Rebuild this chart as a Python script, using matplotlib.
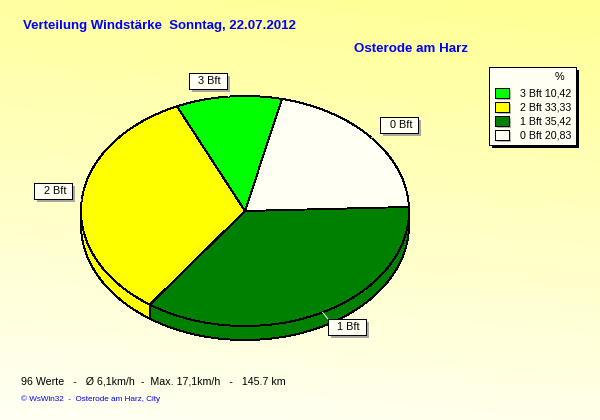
import numpy as np
import matplotlib
matplotlib.use("Agg")
import matplotlib.pyplot as plt
from matplotlib.patches import Polygon, Rectangle

plt.rcParams['font.family'] = ['Liberation Sans', 'DejaVu Sans']

# data, clockwise from the top of the pie
labels = ['0 Bft', '1 Bft', '2 Bft', '3 Bft']
percent = [20.83, 35.42, 33.33, 10.42]
colors = ['#FFFFF4', '#008000', '#FFFF00', '#00FF00']
title = 'Verteilung Windstärke  Sonntag, 22.07.2012'
place = 'Osterode am Harz'
stats = '96 Werte   -   Ø 6,1km/h  -  Max. 17,1km/h   -   145.7 km'
credit = '© WsWin32  -  Osterode am Harz, City'

# pie geometry in pixels
cx, cy, rx, ry, depth = 245, 211, 164, 115, 14
start = 77
line = 0.68

# where each label box sits: left, top
box_pos = {'0 Bft': (380, 117), '1 Bft': (328, 319), '2 Bft': (34, 183), '3 Bft': (189, 73)}
box_w, box_h = 38, 16

fig = plt.figure(figsize=(6, 4.2), dpi=100)
ax = fig.add_axes([0, 0, 1, 1])
ax.set_xlim(0, 600)
ax.set_ylim(420, 0)
ax.axis('off')

# background fades from yellow at the top right to almost white at the bottom
yy, xx = np.mgrid[0:1:210j, 0:1:300j]
fade = np.clip(yy * 0.88 + (1 - xx) * 0.12, 0, 1)
bg = np.ones((210, 300, 3))
bg[..., 2] = 0.58 + 0.38 * fade
ax.imshow(bg, extent=(0, 600, 420, 0), aspect='auto', zorder=0)


def rim(angles, dy=0):
    t = np.radians(angles)
    return np.column_stack([cx + rx * np.cos(t), cy - ry * np.sin(t) + dy])


def arc(a0, a1):
    return np.linspace(a0, a1, max(int(abs(a1 - a0) * 2), 2))


angle = start
spans = []
for p in percent:
    sweep = p / 100 * 360
    spans.append((angle, angle - sweep))
    angle -= sweep

# side of the pie first, only the part facing the viewer
for (a0, a1), col in zip(spans, colors):
    lo = max(min(a0, a1), -180)
    hi = min(max(a0, a1), 0)
    if hi > lo:
        angs = arc(lo, hi)
        pts = np.vstack([rim(angs), rim(angs[::-1], depth)])
        ax.add_patch(Polygon(pts, closed=True, fc=col, ec='black', lw=line, zorder=2, antialiased=False))

# top of the pie
for (a0, a1), col in zip(spans, colors):
    pts = np.vstack([[[cx, cy]], rim(arc(a0, a1))])
    ax.add_patch(Polygon(pts, closed=True, fc=col, ec='black', lw=line, zorder=3, antialiased=False))


def shadow_box(x, y, w, h, shadow, offset):
    ax.add_patch(Rectangle((x + offset, y + offset), w, h, fc=shadow, ec='none', zorder=5))
    ax.add_patch(Rectangle((x, y), w, h, fc='#FFFFF4', ec='black', lw=line, zorder=6, antialiased=False))


# label boxes with their short white leaders
for lab, (a0, a1) in zip(labels, spans):
    x, y = box_pos[lab]
    mx, my = rim([(a0 + a1) / 2])[0]
    ax.plot([mx, np.clip(mx, x, x + box_w)], [my, np.clip(my, y, y + box_h)], color='white', lw=line, zorder=4)
    shadow_box(x, y, box_w, box_h, '#A8A8A0', 3)
    ax.text(x + box_w - 6, y + box_h / 2 + 0.5, lab, ha='right', va='center', fontsize=7.8, color='black', zorder=7)

# legend, top entry is the highest class
shadow_box(489, 67, 87, 78, 'black', 3)
ax.text(559, 77, '%', ha='center', va='center', fontsize=7.8, zorder=7)
for i, (lab, val, col) in enumerate(zip(labels[::-1], percent[::-1], colors[::-1])):
    y = 88 + i * 14
    ax.add_patch(Rectangle((497, y + 2), 14, 10, fc='#B8B8B0', ec='none', zorder=7))
    ax.add_patch(Rectangle((495, y), 14, 10, fc=col, ec='black', lw=line, zorder=8, antialiased=False))
    txt = f'{lab} {val:.2f}'.replace('.', ',')
    ax.text(571, y + 5.5, txt, ha='right', va='center', fontsize=7.7, zorder=8)

ax.text(23, 26.5, title, ha='left', va='center', fontsize=9.5, fontweight='bold', color='#0000FF', zorder=4)
ax.text(354, 49.5, place, ha='left', va='center', fontsize=9.6, fontweight='bold', color='#0000FF', zorder=4)
ax.text(21, 382, stats, ha='left', va='center', fontsize=7.7, color='black', zorder=4)
ax.text(21, 399, credit, ha='left', va='center', fontsize=5.9, color='#0000FF', zorder=4)

fig.savefig('out.png', dpi=100)
